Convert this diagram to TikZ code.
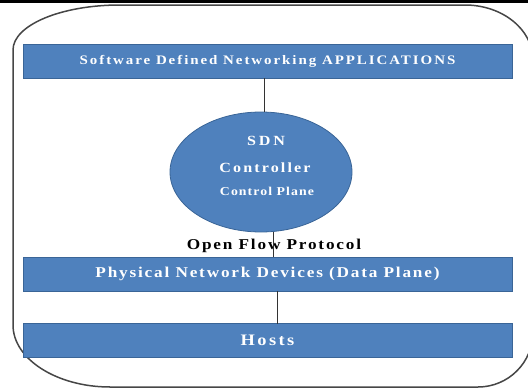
\documentclass[tikz,border=0pt]{standalone}
\usepackage{fontspec}
\usetikzlibrary{shapes.geometric}
\setmainfont{Liberation Serif}
\newfontfamily\spaced[FakeStretch=1.15,LetterSpace=15]{Liberation Serif}
\newfontfamily\midsp[FakeStretch=1.15,LetterSpace=12]{Liberation Serif}
\newfontfamily\wide[FakeStretch=1.15,LetterSpace=20]{Liberation Serif}
\newfontfamily\narrow[FakeStretch=1.15,LetterSpace=9]{Liberation Serif}
\definecolor{barblue}{HTML}{4F81BD}
\definecolor{barline}{HTML}{3A6597}
\begin{document}
\begin{tikzpicture}[x=1pt,y=-1pt,
  bar/.style={draw=barline, fill=barblue, line width=0.8pt, minimum width=489pt, minimum height=34pt, inner sep=0pt, text=white},
  conn/.style={draw=black!80, line width=0.6pt}]
\useasboundingbox (0,0) rectangle (528,391);
\begin{scope}
\clip (0,0) rectangle (528,391);
\fill[black] (0,0) rectangle (528,3);
\draw[gray!55!black, line width=1.5pt]
  (13,50) .. controls (13,25.2) and (60.9,5) .. (120,5) -- (465,5)
  .. controls (502.5,5) and (533,29.6) .. (533,60) -- (533,332)
  .. controls (533,362.4) and (508.4,387) .. (478,387) -- (110,387)
  .. controls (57,387) and (13,359.2) .. (13,325) -- cycle;
\end{scope}
\node[bar, font=\bfseries\spaced\fontsize{13}{14}\selectfont] (apps) at (267.5,61) {Software Defined Networking APPLICATIONS};
\node[draw=barline, fill=barblue, line width=0.8pt, ellipse, minimum width=182pt, minimum height=120pt, inner sep=0pt] (ctl) at (261,172) {};
\node[text=white, font=\bfseries\wide\fontsize{14}{15}\selectfont] (sdn) at (266,141) {SDN};
\node[text=white, font=\bfseries\spaced\fontsize{14}{15}\selectfont] (ctr) at (265,168) {Controller};
\node[text=white, font=\bfseries\narrow\fontsize{12}{13}\selectfont] (cp) at (267,191) {Control Plane};
\node[font=\bfseries\midsp\fontsize{15}{16}\selectfont] (of) at (274,246) {Open Flow Protocol};
\node[bar, font=\bfseries\midsp\fontsize{15}{16}\selectfont] (pnd) at (267.5,274) {Physical Network Devices (Data Plane)};
\node[bar, font=\bfseries\spaced\fontsize{16}{17}\selectfont] (hosts) at (267.5,340.5) {Hosts};
\coordinate (a1) at (264,78);
\coordinate (c1) at (264,112);
\coordinate (c2) at (273,232);
\coordinate (p1) at (273,257);
\coordinate (p2) at (277,291);
\coordinate (h1) at (277,323.5);
\draw[conn] (a1) -- (c1);
\draw[conn] (c2) -- (p1);
\draw[conn] (p2) -- (h1);
\end{tikzpicture}
\end{document}
